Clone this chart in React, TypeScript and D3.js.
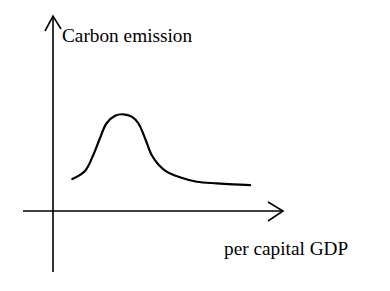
import React from 'react';
import * as d3 from 'd3';

// curve (arbitrary units, both axes 0..100)
const gdp = [8.4, 13.9, 17.5, 20.4, 23.3, 27.0, 30.6, 34.2, 37.1, 40.0, 42.9, 45.8, 49.4, 55.2, 62.5, 71.2, 78.4, 85.7];
const emission = [16.4, 20.5, 28.7, 37.3, 45.0, 48.9, 49.6, 48.4, 45.0, 37.3, 28.7, 23.9, 20.2, 17.3, 15.0, 14.2, 13.7, 13.3];

const xLabel = 'per capital GDP';
const yLabel = 'Carbon emission';

const width = 390;
const height = 291;

const App: React.FC = () => {
  const x = d3.scaleLinear().domain([0, 100]).range([53, 283]);
  const y = d3.scaleLinear().domain([0, 100]).range([211, 16]);

  const pts: [number, number][] = gdp.map((g, i) => [x(g), y(emission[i])]);
  const line = d3.line().curve(d3.curveCatmullRom.alpha(0.5));

  const textStyle = { fontFamily: '"Liberation Serif", "DejaVu Serif", serif', fontSize: '19.3px' };

  return (
    <div style={{ position: 'absolute', left: 0, top: 0 }}>
      <svg width={width} height={height} style={{ display: 'block', background: '#fff' }}>
        {/* y axis */}
        <line x1={x(0)} y1={y(100)} x2={x(0)} y2={272} stroke="#000" strokeWidth={1.6} />
        <polyline
          points={`${x(0) - 8},${y(100) + 15} ${x(0)},${y(100)} ${x(0) + 8},${y(100) + 13}`}
          fill="none" stroke="#000" strokeWidth={1.6}
        />
        {/* x axis */}
        <line x1={23} y1={y(0)} x2={x(100)} y2={y(0)} stroke="#000" strokeWidth={1.6} />
        <polyline
          points={`${x(100) - 15},${y(0) - 9} ${x(100)},${y(0)} ${x(100) - 15},${y(0) + 10}`}
          fill="none" stroke="#000" strokeWidth={1.6}
        />
        <path d={line(pts) || ''} fill="none" stroke="#000" strokeWidth={2.2} strokeLinecap="round" />
        <text x={62} y={42} style={textStyle} fill="#000">{yLabel}</text>
        <text x={224} y={255} style={textStyle} fill="#000">{xLabel}</text>
      </svg>
    </div>
  );
};

export default App;
